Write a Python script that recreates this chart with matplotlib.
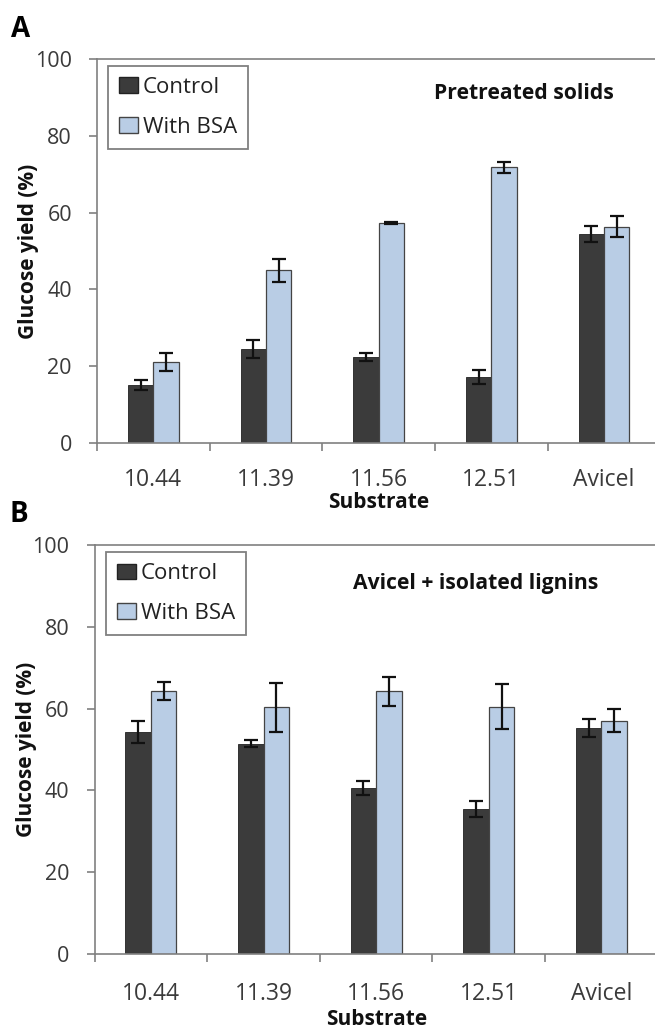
import matplotlib
matplotlib.use("Agg")
import matplotlib.pyplot as plt
import numpy as np
from matplotlib.patches import Patch

plt.rcParams['font.family'] = ['Open Sans', 'DejaVu Sans']

categories = ["10.44", "11.39", "11.56", "12.51", "Avicel"]

a_control = [15.0, 24.4, 22.4, 17.2, 54.4]
a_control_err = [1.3, 2.4, 1.1, 1.8, 2.2]
a_bsa = [21.1, 44.9, 57.2, 71.8, 56.3]
a_bsa_err = [2.3, 2.9, 0.2, 1.4, 2.8]

b_control = [54.2, 51.4, 40.6, 35.5, 55.2]
b_control_err = [2.7, 0.9, 1.6, 1.9, 2.2]
b_bsa = [64.2, 60.3, 64.2, 60.5, 57.0]
b_bsa_err = [2.2, 5.9, 3.5, 5.6, 2.8]

series_labels = ["Control", "With BSA"]
c_ctrl = "#3b3b3b"
c_bsa = "#b9cde5"
spine_c = "#808080"
txt_c = "#3a3a3a"

fig = plt.figure(figsize=(6.55, 10.3), dpi=100)
axA = fig.add_axes([0.148, 0.570, 0.86, 0.3728])
axB = fig.add_axes([0.1443, 0.0738, 0.86, 0.397])

def draw(ax, ctrl, ctrl_err, bsa, bsa_err, note, note_x, note_y, leg_anchor, xlab_pos, tick_pad):
    x = np.arange(len(categories)) + 0.5
    w = 0.225
    ax.bar(x - w/2, ctrl, w, color=c_ctrl, edgecolor="#222222", linewidth=0.6, zorder=2)
    ax.bar(x + w/2, bsa, w, color=c_bsa, edgecolor="#444444", linewidth=0.9, zorder=2)
    ax.errorbar(x - w/2, ctrl, yerr=ctrl_err, fmt='none', ecolor='#111111', elinewidth=1.6, capsize=5, capthick=1.6, zorder=3)
    ax.errorbar(x + w/2, bsa, yerr=bsa_err, fmt='none', ecolor='#111111', elinewidth=1.6, capsize=5, capthick=1.6, zorder=3)
    ax.set_xlim(0, 5)
    ax.set_ylim(0, 100)
    ax.set_yticks([0, 20, 40, 60, 80, 100])
    ax.set_xticks(np.arange(0, 6), minor=False)
    ax.set_xticklabels([])
    ax.set_xticks(x, minor=True)
    ax.set_xticklabels(categories, minor=True)
    ax.tick_params(axis='x', which='minor', length=0, labelsize=16.5, pad=tick_pad, labelcolor=txt_c)
    ax.tick_params(axis='x', which='major', length=6, width=1.2, color=spine_c, direction='out')
    ax.tick_params(axis='y', length=6, width=1.2, color=spine_c, labelsize=15.5, labelcolor=txt_c, pad=12)
    for s in ['left', 'bottom', 'top']:
        ax.spines[s].set_color(spine_c)
        ax.spines[s].set_linewidth(1.2)
    ax.spines['right'].set_visible(False)
    ax.set_ylabel("Glucose yield (%)", fontsize=15, fontweight='bold', va='center', color='#111111')
    ax.yaxis.set_label_coords(-0.121, 0.5)
    ax.set_xlabel("Substrate", fontsize=15, fontweight='bold', va='center', color='#111111')
    ax.xaxis.set_label_coords(xlab_pos[0], xlab_pos[1])
    handles = [Patch(facecolor=c_ctrl, edgecolor="#222222"), Patch(facecolor=c_bsa, edgecolor="#444444")]
    leg = ax.legend(handles, series_labels, loc='upper left', bbox_to_anchor=leg_anchor,
                    fontsize=16, handlelength=0.86, handleheight=0.7, handletextpad=0.2,
                    fancybox=False, edgecolor=spine_c, borderpad=0.5, labelspacing=0.85,
                    framealpha=1, borderaxespad=0)
    for t in leg.get_texts():
        t.set_color('#222222')
    leg.get_frame().set_linewidth(1.3)
    ax.text(note_x, note_y, note, fontsize=15.2, fontweight='bold', ha='center', va='center', color='#111111')

draw(axA, a_control, a_control_err, a_bsa, a_bsa_err, "Pretreated solids", 3.79, 90.9,
     (0.0195, 0.982), (0.5, -0.155), 18)
draw(axB, b_control, b_control_err, b_bsa, b_bsa_err, "Avicel + isolated lignins", 3.38, 90.5,
     (0.0205, 0.983), (0.5, -0.161), 20)

fig.text(0.031, 0.971, "A", fontsize=20, fontweight='bold', va='center', ha='center')
fig.text(0.029, 0.500, "B", fontsize=20, fontweight='bold', va='center', ha='center')

fig.savefig("out.png", dpi=100)
